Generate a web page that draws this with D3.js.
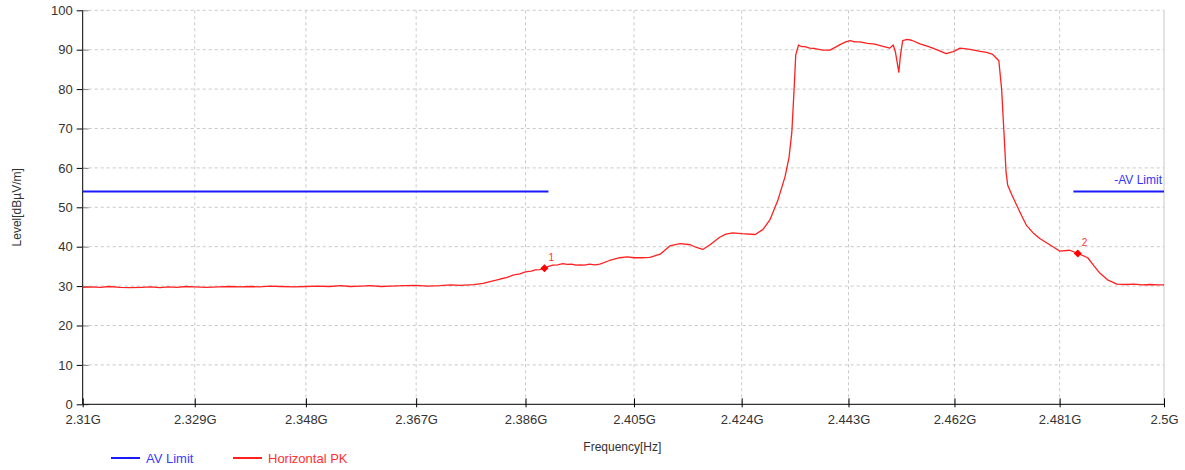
<!DOCTYPE html>
<html>
<head>
<meta charset="utf-8">
<script src="https://d3js.org/d3.v7.min.js"></script>
<style>
  body { margin: 0; background: #fff; }
  text { font-family: "Liberation Sans", Arial, sans-serif; }
</style>
</head>
<body>
<div id="chart"></div>
<script>
// frequency in GHz, level in dBuV/m
var freqTicks = [2.31, 2.329, 2.348, 2.367, 2.386, 2.405, 2.424, 2.443, 2.462, 2.481, 2.5];
var tickLabels = ["2.31G", "2.329G", "2.348G", "2.367G", "2.386G", "2.405G", "2.424G", "2.443G", "2.462G", "2.481G", "2.5G"];
var levelTicks = [0, 10, 20, 30, 40, 50, 60, 70, 80, 90, 100];

var avLimitLeft = [[2.31, 54], [2.39, 54]];
var avLimitRight = [[2.4835, 54], [2.5, 54]];

var pkFreq = [2.3100, 2.3115, 2.3130, 2.3145, 2.3163, 2.3180, 2.3200, 2.3215, 2.3231, 2.3245, 2.3260,
  2.3275, 2.3290, 2.3310, 2.3330, 2.3350, 2.3367, 2.3385, 2.3400, 2.3418, 2.3436,
  2.3460, 2.3480, 2.3500, 2.3520, 2.3540, 2.3556, 2.3575, 2.3590, 2.3610, 2.3625, 2.3650, 2.3670,
  2.3690, 2.3711, 2.3730, 2.3746, 2.3770, 2.3786,
  2.3800, 2.3816, 2.3828, 2.3838, 2.3850, 2.3860, 2.3870, 2.3877, 2.3885, 2.3893, 2.3900, 2.3908,
  2.3916, 2.3925, 2.3933, 2.3940, 2.3948, 2.3955, 2.3963, 2.3972, 2.3981, 2.3990,
  2.4007, 2.4025, 2.4038, 2.4050, 2.4064, 2.4078, 2.4096, 2.4113, 2.4131, 2.4149, 2.4160, 2.4171,
  2.4184, 2.4201, 2.4212, 2.4224,
  2.4240, 2.4264, 2.4278, 2.4290, 2.4304, 2.4317, 2.4324, 2.4329, 2.4333, 2.4336, 2.4341, 2.4346, 2.4352,
  2.4361, 2.4370, 2.4384, 2.4397, 2.4406, 2.4415, 2.4425, 2.4433, 2.4441, 2.4450, 2.4464, 2.4477,
  2.4490, 2.4504, 2.4510, 2.4514, 2.4520, 2.4523, 2.4527,
  2.4535, 2.4543, 2.4558, 2.4575, 2.4590, 2.4605, 2.4618, 2.4630, 2.4648, 2.4666, 2.4678, 2.4689,
  2.4700, 2.4705, 2.4709, 2.4713, 2.4716, 2.4724, 2.4732,
  2.4741, 2.4750, 2.4762, 2.4774, 2.4792, 2.4810, 2.4828, 2.4843, 2.4861, 2.4872, 2.4883, 2.4897,
  2.4914, 2.4930, 2.4946, 2.4960, 2.4975, 2.4988, 2.5000];
var pkLevel = [29.7, 29.8, 29.7, 29.9, 29.7, 29.6, 29.7, 29.8, 29.6, 29.8, 29.7,
  29.9, 29.8, 29.7, 29.8, 29.9, 29.8, 29.9, 29.8, 30.0, 29.9,
  29.8, 29.9, 30.0, 29.9, 30.1, 29.9, 30.0, 30.1, 29.9, 30.0, 30.1, 30.2,
  30.0, 30.1, 30.3, 30.2, 30.4, 30.7,
  31.2, 31.8, 32.2, 32.8, 33.1, 33.6, 33.8, 34.1, 34.2, 34.5, 35.0, 35.3,
  35.4, 35.7, 35.5, 35.6, 35.3, 35.4, 35.3, 35.6, 35.4, 35.6,
  36.5, 37.2, 37.4, 37.2, 37.2, 37.3, 38.1, 40.2, 40.8, 40.5, 39.8, 39.3,
  40.5, 42.4, 43.2, 43.5,
  43.3, 43.1, 44.4, 46.8, 51.7, 57.8, 62.6, 69.0, 79.8, 88.7, 91.2, 90.8, 90.8,
  90.4, 90.3, 89.9, 89.9, 90.6, 91.3, 92.0, 92.3, 92.0, 92.0, 91.6, 91.4,
  90.9, 90.4, 91.2, 89.4, 84.3, 88.6, 92.3,
  92.6, 92.4, 91.5, 90.7, 89.9, 89.0, 89.5, 90.4, 90.1, 89.6, 89.3, 88.8,
  87.2, 80.0, 69.6, 59.0, 55.6, 53.0, 50.6,
  47.9, 45.4, 43.5, 42.1, 40.5, 38.9, 39.1, 38.3, 37.2, 35.2, 33.3, 31.6,
  30.5, 30.4, 30.5, 30.3, 30.4, 30.3, 30.3];

var markerFreq = [2.3893, 2.4843];
var markerLevel = [34.5, 38.3];
var markerNames = ["1", "2"];

var W = 1185, H = 470;
var margin = { top: 10.3, right: 21, bottom: 65.7, left: 82.7 };
var width = W - margin.left - margin.right;
var height = H - margin.top - margin.bottom;

var svg = d3.select("#chart").append("svg")
  .attr("width", W).attr("height", H)
  .style("background", "#fff");

var g = svg.append("g").attr("transform", "translate(" + margin.left + "," + margin.top + ")");

var x = d3.scaleLog().domain([2.31, 2.5]).range([0, width]);
var y = d3.scaleLinear().domain([0, 100]).range([height, 0]);

// grid
g.selectAll(".vgrid").data(freqTicks.slice(1, -1)).enter().append("line")
  .attr("x1", d => x(d)).attr("x2", d => x(d))
  .attr("y1", 0).attr("y2", height)
  .attr("stroke", "#c8c8c8").attr("stroke-dasharray", "3,3");
g.selectAll(".hgrid").data(levelTicks.slice(1)).enter().append("line")
  .attr("x1", 0).attr("x2", width)
  .attr("y1", d => y(d)).attr("y2", d => y(d))
  .attr("stroke", "#c8c8c8").attr("stroke-dasharray", "3,3");
// right border
g.append("line").attr("x1", width).attr("x2", width).attr("y1", 0).attr("y2", height)
  .attr("stroke", "#c8c8c8");

// y axis
var yAxis = d3.axisLeft(y).tickValues(levelTicks).tickSize(6).tickPadding(4);
var ya = g.append("g").call(yAxis);
ya.select(".domain").attr("stroke", "#000").attr("d", "M0,0V" + height);
ya.selectAll("text").attr("font-size", 13).attr("fill", "#333")
  .style("font-family", "'Liberation Sans', Arial, sans-serif");
ya.selectAll(".tick").append("line").attr("x1", 0).attr("x2", 6).attr("stroke", "#888");

// x axis
var xAxis = d3.axisBottom(x).tickValues(freqTicks)
  .tickFormat((d, i) => tickLabels[i]).tickSize(3).tickPadding(7);
var xa = g.append("g").attr("transform", "translate(0," + height + ")").call(xAxis);
xa.select(".domain").attr("stroke", "#000").attr("d", "M0,0H" + width);
xa.selectAll(".tick line").attr("y1", -6).attr("y2", 3).attr("stroke", "#000");
xa.selectAll("text").attr("font-size", 13).attr("fill", "#333")
  .style("font-family", "'Liberation Sans', Arial, sans-serif");

// titles
svg.append("text").attr("transform", "translate(21," + (margin.top + height / 2) + ") rotate(-90)")
  .attr("text-anchor", "middle").attr("font-size", 12).attr("fill", "#333").text("Level[dBµV/m]");
svg.append("text").attr("x", margin.left + width / 2 - 1).attr("y", 451)
  .attr("text-anchor", "middle").attr("font-size", 12).attr("fill", "#333").text("Frequency[Hz]");

// limit lines
var line = d3.line().x(d => x(d[0])).y(d => y(d[1]));
[avLimitLeft, avLimitRight].forEach(function(seg) {
  g.append("path").datum(seg).attr("d", line)
    .attr("fill", "none").attr("stroke", "#1a1aff").attr("stroke-width", 2);
});
g.append("text").attr("x", width - 2).attr("y", y(54) - 8)
  .attr("text-anchor", "end").attr("font-size", 12).attr("fill", "#3333ff").text("-AV Limit");

// PK trace
var pkData = pkFreq.map((f, i) => [f, pkLevel[i]]);
g.append("path").datum(pkData).attr("d", line)
  .attr("fill", "none").attr("stroke", "#ff2020").attr("stroke-width", 1.3)
  .attr("stroke-linejoin", "round");

// markers
var mk = g.selectAll(".mk").data(markerFreq).enter().append("g")
  .attr("transform", (d, i) => "translate(" + x(d) + "," + y(markerLevel[i]) + ")");
mk.append("path").attr("d", "M0,-4L4,0L0,4L-4,0Z").attr("fill", "#ff0000");
mk.append("text").attr("x", 4).attr("y", -7).attr("font-size", 10).attr("fill", "#ff3030")
  .text((d, i) => markerNames[i]);

// legend
var legend = [{ name: "AV Limit", color: "#1a1aff", tc: "#3b3bff", x: 111 },
  { name: "Horizontal PK", color: "#ff2020", tc: "#ff3030", x: 233 }];
var lg = svg.selectAll(".lg").data(legend).enter().append("g")
  .attr("transform", d => "translate(" + d.x + ",458)");
lg.append("line").attr("x1", 0).attr("x2", 29).attr("stroke", d => d.color).attr("stroke-width", 2);
lg.append("text").attr("x", 35).attr("y", 5).attr("font-size", 13).attr("fill", d => d.tc).text(d => d.name);
</script>
</body>
</html>
